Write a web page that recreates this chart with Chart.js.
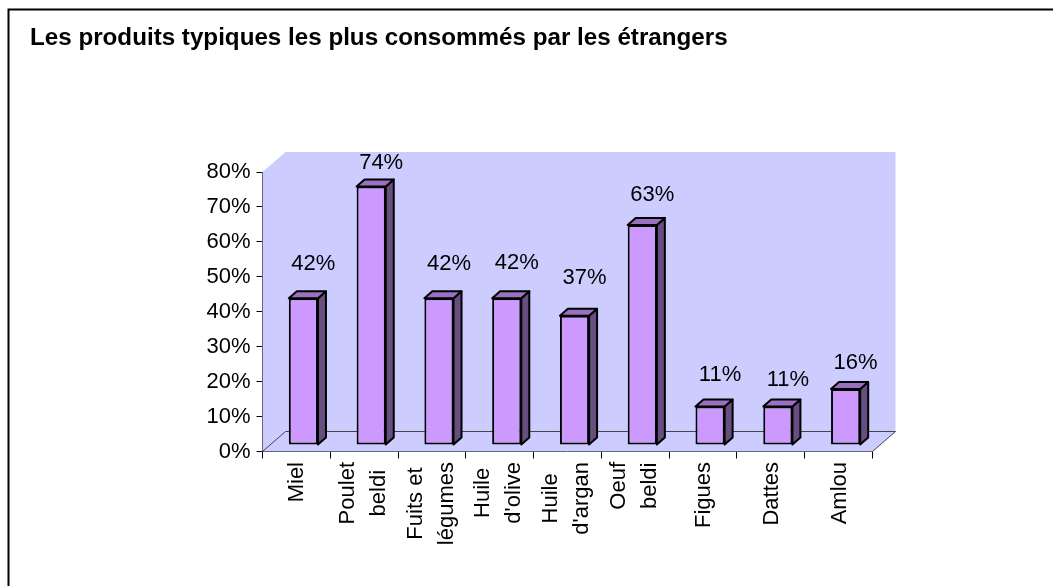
<!DOCTYPE html>
<html>
<head>
<meta charset="utf-8">
<title>Produits typiques</title>
<script src="https://cdn.jsdelivr.net/npm/chart.js@4"></script>
<style>
    html, body { margin: 0; padding: 0; background: #fff; }
    canvas { display: block; }
</style>
</head>
<body>
<canvas id="chart" width="1053" height="586"></canvas>
<script>
const titleText = 'Les produits typiques les plus consommés par les étrangers';
const categories = [['Miel'], ['Poulet', 'beldi'], ['Fuits et', 'légumes'], ['Huile', "d'olive"], ['Huile', "d'argan"], ['Oeuf', 'beldi'], ['Figues'], ['Dattes'], ['Amlou']];
const values = [42, 74, 42, 42, 37, 63, 11, 11, 16];
const yTicks = [0, 10, 20, 30, 40, 50, 60, 70, 80];

// the labels were placed by hand in the original, so each has its own lift above the bar
const labelLift = [34, 24, 34, 35, 38, 30, 32, 27, 26];

const fontFamily = '"Liberation Sans", Arial, sans-serif';
const depth = { x: 23, y: 20 };
const barDepth = { x: 8, y: 7 };
const barShift = { x: 7, y: -6.5 };

const scene3d = {
    id: 'scene3d',
    beforeDraw(chart) {
        // only the top and left edges of the frame are inside the picture
        const ctx = chart.ctx;
        ctx.save();
        ctx.strokeStyle = '#000';
        ctx.lineWidth = 2;
        ctx.beginPath();
        ctx.moveTo(8.5, 586);
        ctx.lineTo(8.5, 9.5);
        ctx.lineTo(1053, 9.5);
        ctx.stroke();
        ctx.restore();
    },
    beforeDatasetsDraw(chart) {
        const ctx = chart.ctx;
        const { left, right, top, bottom } = chart.chartArea;
        ctx.save();
        ctx.fillStyle = '#ccccff';
        ctx.beginPath();
        ctx.moveTo(left, bottom);
        ctx.lineTo(left, top);
        ctx.lineTo(left + depth.x, top - depth.y);
        ctx.lineTo(right + depth.x, top - depth.y);
        ctx.lineTo(right + depth.x, bottom - depth.y);
        ctx.lineTo(right, bottom);
        ctx.closePath();
        ctx.fill();

        ctx.strokeStyle = '#444';
        ctx.lineWidth = 1;
        ctx.beginPath();
        ctx.moveTo(left, bottom);
        ctx.lineTo(left + depth.x, bottom - depth.y);
        ctx.lineTo(right + depth.x, bottom - depth.y);
        ctx.lineTo(right, bottom);
        ctx.stroke();
        ctx.restore();

        // sides and tops go behind the front faces
        const meta = chart.getDatasetMeta(0);
        ctx.save();
        ctx.translate(barShift.x, barShift.y);
        ctx.strokeStyle = '#000';
        ctx.lineWidth = 2;
        ctx.lineJoin = 'round';
        meta.data.forEach(bar => {
            const l = bar.x - bar.width / 2;
            const r = bar.x + bar.width / 2;
            ctx.fillStyle = '#664e80';
            ctx.beginPath();
            ctx.moveTo(r, bar.y);
            ctx.lineTo(r + barDepth.x, bar.y - barDepth.y);
            ctx.lineTo(r + barDepth.x, bar.base - barDepth.y);
            ctx.lineTo(r, bar.base);
            ctx.closePath();
            ctx.fill();
            ctx.stroke();
            ctx.fillStyle = '#9a70c0';
            ctx.beginPath();
            ctx.moveTo(l, bar.y);
            ctx.lineTo(l + barDepth.x, bar.y - barDepth.y);
            ctx.lineTo(r + barDepth.x, bar.y - barDepth.y);
            ctx.lineTo(r, bar.y);
            ctx.closePath();
            ctx.fill();
            ctx.stroke();
        });
        ctx.restore();

        ctx.save();
        ctx.translate(barShift.x, barShift.y);
    },
    afterDatasetsDraw(chart) {
        const ctx = chart.ctx;
        ctx.restore();

        const meta = chart.getDatasetMeta(0);
        const xScale = chart.scales.x;
        ctx.save();
        ctx.fillStyle = '#000';
        ctx.font = '22px ' + fontFamily;
        ctx.textAlign = 'center';
        ctx.textBaseline = 'middle';
        meta.data.forEach((bar, i) => {
            ctx.fillText(values[i] + '%', bar.x + barShift.x + 10, bar.y + barShift.y - labelLift[i]);
        });

        // rotated category labels, lines centred on each other
        categories.forEach((lines, i) => {
            const x = xScale.getPixelForValue(i);
            const longest = Math.max(...lines.map(l => ctx.measureText(l).width));
            lines.forEach((line, j) => {
                const off = (j - (lines.length - 1) / 2) * 31 - (lines.length > 1 ? 1 : -1);
                ctx.save();
                ctx.translate(x + off, chart.chartArea.bottom + 10.5 + longest / 2);
                ctx.rotate(-Math.PI / 2);
                ctx.fillText(line, 0, 0);
                ctx.restore();
            });
        });
        ctx.restore();
    }
};

new Chart(document.getElementById('chart').getContext('2d'), {
    type: 'bar',
    data: {
        labels: categories,
        datasets: [{
            data: values,
            backgroundColor: '#cc99ff',
            borderColor: '#000',
            borderWidth: 2,
            borderSkipped: false,
            barPercentage: 0.43,
            categoryPercentage: 1
        }]
    },
    plugins: [scene3d],
    options: {
        responsive: false,
        animation: false,
        layout: { padding: { left: 30, right: 180.5, top: 0, bottom: 0 } },
        plugins: {
            legend: { display: false },
            tooltip: { enabled: false },
            title: {
                display: true,
                text: titleText,
                align: 'start',
                color: '#000',
                font: { family: fontFamily, size: 24.2, weight: 'bold', lineHeight: 1.2 },
                padding: { top: 24, bottom: 119 }
            }
        },
        scales: {
            x: {
                afterFit: scale => { scale.height = 134.5; },
                grid: { drawOnChartArea: false, color: '#000', tickLength: 7 },
                border: { color: '#000' },
                ticks: { display: false }
            },
            y: {
                min: 0,
                max: 80,
                afterFit: scale => { scale.width = 232.5; },
                afterBuildTicks: scale => { scale.ticks = yTicks.map(value => ({ value })); },
                grid: { drawOnChartArea: false, color: '#000', tickLength: 6 },
                border: { color: '#000' },
                ticks: {
                    color: '#000',
                    font: { family: fontFamily, size: 22 },
                    padding: 6,
                    callback: value => value + '%'
                }
            }
        }
    }
});
</script>
</body>
</html>
